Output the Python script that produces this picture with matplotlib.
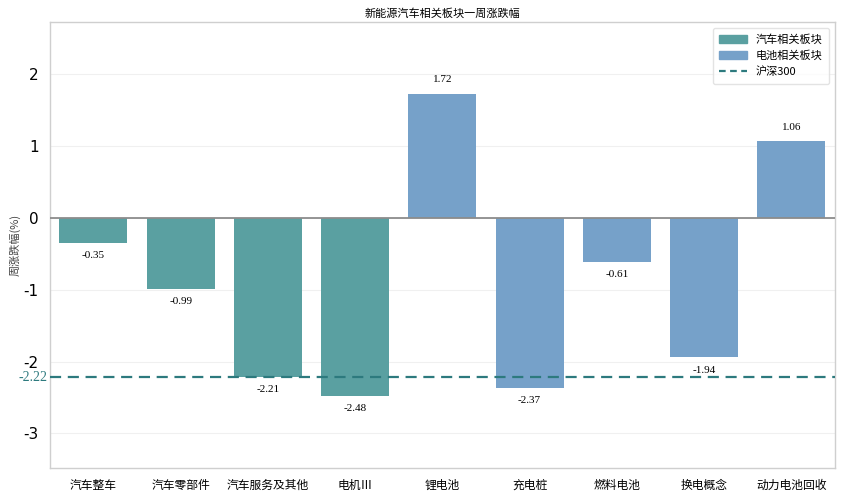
import matplotlib
matplotlib.use("Agg")
import matplotlib.pyplot as plt
from matplotlib.patches import Patch
from matplotlib.lines import Line2D

plt.rcParams['font.family'] = ['Noto Sans CJK SC', 'DejaVu Sans']

categories = ['汽车整车', '汽车零部件', '汽车服务及其他', '电机Ⅲ', '锂电池',
              '充电桩', '燃料电池', '换电概念', '动力电池回收']
changes = [-0.35, -0.99, -2.21, -2.48, 1.72, -2.37, -0.61, -1.94, 1.06]
groups = ['auto', 'auto', 'auto', 'auto', 'battery', 'battery', 'battery', 'battery', 'battery']
hs300 = -2.22

car_color = '#5aa0a1'
bat_color = '#76a1c9'
line_color = '#2d7a7e'
colors = [car_color if g == 'auto' else bat_color for g in groups]

fig = plt.figure(figsize=(8.45, 5.0), dpi=100)
ax = fig.add_axes([0.059, 0.064, 0.929, 0.892])

x = list(range(len(categories)))
ax.bar(x, changes, width=0.78, color=colors, zorder=3)
ax.axhline(0, color='#8c8c8c', lw=1.3, zorder=4)
ax.axhline(hs300, color=line_color, lw=1.6, ls=(0, (5, 3)), zorder=5)

for xi, v in zip(x, changes):
    if v >= 0:
        ax.annotate(f'{v:.2f}', (xi, v), xytext=(0, 7), textcoords='offset points',
                    ha='center', va='bottom', fontsize=8, family='Liberation Serif')
    else:
        ax.annotate(f'{v:.2f}', (xi, v), xytext=(0, -6), textcoords='offset points',
                    ha='center', va='top', fontsize=8, family='Liberation Serif')

ax.set_xlim(-0.5, len(categories) - 0.5)
ax.set_ylim(min(changes) - 1, max(changes) + 1)
ax.set_yticks([-3, -2, -1, 0, 1, 2])
ax.set_yticklabels(['-3', '-2', '-1', '0', '1', '2'], family='DejaVu Sans', fontsize=11)
ax.set_xticks(x)
ax.set_xticklabels(categories, fontsize=8.5)
ax.tick_params(axis='both', length=0, pad=8)
ax.grid(axis='y', color='#f0f0f0', lw=0.8, zorder=0)
for s in ax.spines.values():
    s.set_color('#cfcfcf')
    s.set_linewidth(1)

ax.text(-0.53, hs300, f'{hs300:.2f}', ha='right', va='center', fontsize=10,
        color=line_color, family='Liberation Serif')

ax.set_ylabel('周涨跌幅(%)', fontsize=8, color='#444444', labelpad=2)
ax.set_title('新能源汽车相关板块一周涨跌幅', fontsize=8, pad=4)

handles = [Patch(color=car_color, label='汽车相关板块'),
           Patch(color=bat_color, label='电池相关板块'),
           Line2D([0], [0], color=line_color, lw=1.6, ls=(0, (3, 2)), label='沪深300')]
leg = ax.legend(handles=handles, loc='upper right', fontsize=8, frameon=True,
                handlelength=2.5, borderpad=0.6)
leg.get_frame().set_edgecolor('#dddddd')

fig.savefig('out.png', dpi=100)
